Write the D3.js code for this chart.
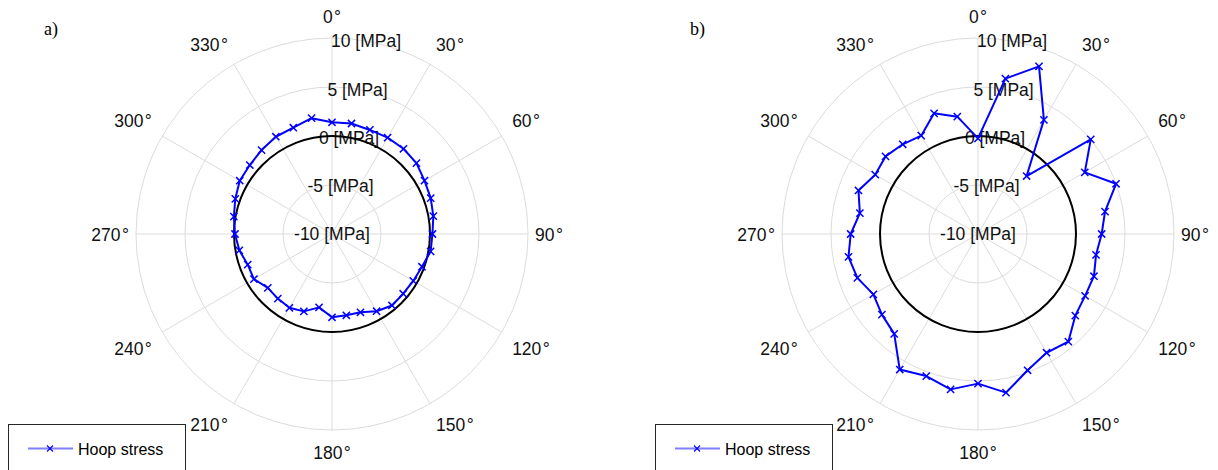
<!DOCTYPE html>
<html>
<head>
<meta charset="utf-8">
<script src="https://cdn.jsdelivr.net/npm/d3@7"></script>
<style>
  html, body { margin: 0; padding: 0; background: #fff; }
  svg { display: block; }
</style>
</head>
<body>
<svg id="chart" width="1218" height="470"></svg>
<script>
// Measurement angles (degrees, clockwise from top)
const angles = [0, 10, 20, 30, 40, 50, 60, 70, 80, 90, 100, 110, 120, 130, 140, 150, 160, 170,
                180, 190, 200, 210, 220, 230, 240, 250, 260, 270, 280, 290, 300, 310, 320, 330, 340, 350];

// Hoop stress [MPa], panel a)
const hoopA = [1.40, 1.45, 1.30, 1.35, 1.35, 1.25, 0.90, 0.72, 0.50, 0.25, 0.22, -0.23,
               -0.42, -0.52, -0.48, -0.90, -1.50, -1.58, -1.50, -2.40, -1.60, -1.30, -1.40, -1.45,
               -0.80, -0.85, -0.40, -0.10, 0.17, 0.50, 0.87, 0.95, 1.18, 1.46, 1.54, 2.00];

// Hoop stress [MPa], panel b)
const hoopB = [-0.24, 6.10, 8.20, 3.45, -2.28, 5.02, 2.58, 4.99, 3.16, 2.62, 2.23, 2.59,
               2.62, 2.96, 4.34, 3.99, 4.80, 6.44, 5.27, 6.10, 5.43, 5.97, 3.30, 2.80,
               2.33, 3.10, 3.42, 2.99, 2.24, 2.98, 2.11, 2.32, 1.95, 1.59, 3.10, 2.16];

const rTicks = [-10, -5, 0, 5, 10];
const rTickLabels = ["-10 [MPa]", "-5 [MPa]", "0 [MPa]", "5 [MPa]", "10 [MPa]"];
const thetaTicks = [0, 30, 60, 90, 120, 150, 180, 210, 240, 270, 300, 330];
const thetaTickLabels = thetaTicks.map(d => d + "\u200A°");
const refCircle = 0;              // reference ring drawn in black
const legendLabel = "Hoop stress";
const panelTags = ["a)", "b)"];

const SANS = "'Liberation Sans', Arial, Helvetica, sans-serif";
const SERIF = "'Liberation Serif', 'DejaVu Serif', 'Times New Roman', serif";
const FS = 17.5;                  // tick label font size
const CAP = 0.716 * FS;           // digit height

const svg = d3.select("#chart");
const R = 196;
const rScale = d3.scaleLinear().domain([-10, 10]).range([0, R]);
const rad = d => d * Math.PI / 180;

function drawPanel(cx, cy, values, tag, legendX) {
  const g = svg.append("g").attr("transform", `translate(${cx},${cy})`);

  // grid rings
  g.selectAll("circle.ring").data(rTicks.filter(t => t > -10)).enter()
    .append("circle").attr("class", "ring")
    .attr("r", d => rScale(d))
    .attr("fill", "none").attr("stroke", "#dcdcdc").attr("stroke-width", 1);

  // spokes
  g.selectAll("line.spoke").data(thetaTicks).enter()
    .append("line").attr("class", "spoke")
    .attr("x1", 0).attr("y1", 0)
    .attr("x2", d => R * Math.sin(rad(d)))
    .attr("y2", d => -R * Math.cos(rad(d)))
    .attr("stroke", "#dcdcdc").attr("stroke-width", 1);

  // radial tick labels along the 10° direction
  g.selectAll("text.rlab").data(rTicks).enter()
    .append("text").attr("class", "rlab")
    .attr("x", d => rScale(d) * Math.sin(rad(10)))
    .attr("y", d => -rScale(d) * Math.cos(rad(10)) + CAP / 2)
    .attr("text-anchor", "middle")
    .style("font-family", SANS).attr("font-size", FS).attr("fill", "#111")
    .text((d, i) => rTickLabels[i]);

  // angular tick labels: box placed just outside the outer ring
  const B = 208;
  g.selectAll("text.tlab").data(thetaTicks).enter()
    .append("text").attr("class", "tlab")
    .attr("text-anchor", "middle")
    .style("font-family", SANS).attr("font-size", FS).attr("fill", "#111")
    .text((d, i) => thetaTickLabels[i])
    .each(function(d) {
      const w = this.getComputedTextLength();
      const s = Math.sin(rad(d)), c = Math.cos(rad(d));
      const sx = Math.abs(s) < 1e-6 ? 0 : Math.sign(s);
      const sy = Math.abs(c) < 1e-6 ? 0 : Math.sign(c);
      const side = Math.abs(c) < 1e-6 ? -5 : 0;
      const x = (B + side) * s + sx * w / 2;
      const yc = -B * c - sy * CAP / 2 - sy * 3.5 + 0.5;
      d3.select(this).attr("x", x).attr("y", yc + CAP / 2);
    });

  // reference ring
  g.append("circle").attr("r", rScale(refCircle))
    .attr("fill", "none").attr("stroke", "#000").attr("stroke-width", 2);

  // data trace
  const pts = angles.map((a, i) => ({ a: a, v: values[i] }));
  const line = d3.lineRadial()
    .angle(d => rad(d.a))
    .radius(d => rScale(d.v))
    .curve(d3.curveLinearClosed);
  g.append("path").datum(pts).attr("d", line)
    .attr("fill", "none").attr("stroke", "#0000ff").attr("stroke-width", 2)
    .attr("stroke-linejoin", "round");

  const m = 3.6;
  const mk = g.selectAll("g.mk").data(pts).enter().append("g").attr("class", "mk")
    .attr("transform", d => {
      const r = rScale(d.v);
      return `translate(${r * Math.sin(rad(d.a))},${-r * Math.cos(rad(d.a))})`;
    });
  mk.append("path").attr("d", `M${-m},${-m}L${m},${m}M${-m},${m}L${m},${-m}`)
    .attr("stroke", "#0000ff").attr("stroke-width", 1.5).attr("fill", "none");

  // panel tag
  svg.append("text").attr("x", cx - 288).attr("y", 35)
    .style("font-family", SERIF)
    .attr("font-size", 18).attr("fill", "#000").text(tag);

  // legend
  const lg = svg.append("g").attr("transform", `translate(${legendX},424)`);
  lg.append("rect").attr("x", 0.5).attr("y", 0.5).attr("width", 177).attr("height", 60)
    .attr("fill", "#fff").attr("stroke", "#262626").attr("stroke-width", 1);
  lg.append("line").attr("x1", 20).attr("x2", 65).attr("y1", 24.5).attr("y2", 24.5)
    .attr("stroke", "#7f7fff").attr("stroke-width", 2);
  const lm = 3;
  lg.append("path").attr("d", `M${42 - lm},${24.5 - lm}L${42 + lm},${24.5 + lm}M${42 - lm},${24.5 + lm}L${42 + lm},${24.5 - lm}`)
    .attr("stroke", "#0000ff").attr("stroke-width", 1.1);
  lg.append("text").attr("x", 70).attr("y", 30.5)
    .style("font-family", SANS).attr("font-size", 16)
    .attr("fill", "#000").text(legendLabel);
}

drawPanel(332, 234, hoopA, panelTags[0], 8);
drawPanel(978, 234, hoopB, panelTags[1], 655);
</script>
</body>
</html>
